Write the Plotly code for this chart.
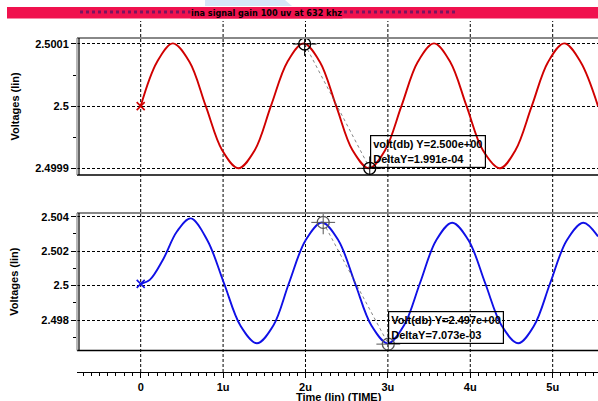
import plotly.graph_objects as go

# ---------------- data (time in microseconds) ----------------
red_t = [0, 0.198, 0.39, 0.593, 0.79, 0.989, 1.185, 1.384, 1.58, 1.78, 1.975, 2.175,
         2.373, 2.571, 2.77, 2.966, 3.164, 3.362, 3.56, 3.757, 3.955, 4.153, 4.36,
         4.548, 4.746, 4.944, 5.14, 5.339, 5.55]
red_v = [2.5, 2.500071, 2.500101, 2.500071, 2.5, 2.499929, 2.4999, 2.499929, 2.5,
         2.500071, 2.500101, 2.500071, 2.5, 2.499929, 2.4999, 2.499929, 2.5, 2.500071,
         2.500101, 2.500071, 2.5, 2.499929, 2.4999, 2.499929, 2.5, 2.500071, 2.500101,
         2.500071, 2.5]

blue_t = [0, 0.11, 0.27, 0.44, 0.607, 0.81, 1.01, 1.21, 1.41, 1.61, 1.80, 2.00, 2.20,
          2.40, 2.60, 2.80, 3.00, 3.195, 3.39, 3.585, 3.78, 3.98, 4.18, 4.38, 4.58,
          4.775, 4.97, 5.17, 5.37, 5.55]
blue_v = [2.5001, 2.50033, 2.5015, 2.50314, 2.5039, 2.50262, 2.50015, 2.49768, 2.49665,
          2.49768, 2.50015, 2.50262, 2.50366, 2.50262, 2.50015, 2.49768, 2.49664,
          2.49768, 2.50015, 2.50262, 2.50365, 2.50262, 2.50015, 2.49768, 2.49665,
          2.49768, 2.50015, 2.50262, 2.50365, 2.50285]

cur_top_t = [1.99, 2.78]
cur_top_v = [2.5001, 2.4999]
cur_bot_t = [2.215, 3.005]
cur_bot_v = [2.50367, 2.4966]

label_top = ["volt(db) Y=2.500e+00", "DeltaY=1.991e-04"]
label_bot = ["Volt(db) Y=2.497e+00", "DeltaY=7.073e-03"]

x_tickvals = [0, 1, 2, 3, 4, 5]
x_ticktext = ["0", "1u", "2u", "3u", "4u", "5u"]
y1_tickvals = [2.4999, 2.5, 2.5001]
y1_ticktext = ["2.4999", "2.5", "2.5001"]
y2_tickvals = [2.498, 2.5, 2.502, 2.504]
y2_ticktext = ["2.498", "2.5", "2.502", "2.504"]

title_text = "ina signal gain 100 uv at 632 khz"
ytitle = "Voltages (lin)"
xtitle = "Time (lin) (TIME)"

# ---------------- geometry helpers ----------------
W, H = 598, 401
ML, MR, MT, MB = 77, 0, 21, 29
PW = W - ML - MR
PH = H - MT - MB


def px(x):
    return (x - ML) / PW


def py(y):
    return (H - MB - y) / PH


FONT = "Liberation Sans, Arial, sans-serif"
NARROW = "Liberation Sans Narrow, DejaVu Sans Condensed, Liberation Sans, Arial"
RED = "#d00000"
BLUE = "#1010e6"

fig = go.Figure()

fig.add_trace(go.Scatter(x=red_t, y=red_v, mode="lines", xaxis="x", yaxis="y",
                         line=dict(color=RED, width=1.9, shape="spline", smoothing=1.0)))
fig.add_trace(go.Scatter(x=red_t[:1], y=red_v[:1], mode="markers", xaxis="x", yaxis="y",
                         marker=dict(symbol="x-thin", size=8, line=dict(color=RED, width=1.6))))
fig.add_trace(go.Scatter(x=blue_t, y=blue_v, mode="lines", xaxis="x", yaxis="y2",
                         line=dict(color=BLUE, width=1.9, shape="spline", smoothing=1.0)))
fig.add_trace(go.Scatter(x=blue_t[:1], y=blue_v[:1], mode="markers", xaxis="x", yaxis="y2",
                         marker=dict(symbol="x-thin", size=8, line=dict(color=BLUE, width=1.6))))

# cursors
for ct, cv, ya, col in [(cur_top_t, cur_top_v, "y", "#000000"),
                        (cur_bot_t, cur_bot_v, "y2", "#555555")]:
    fig.add_trace(go.Scatter(x=ct, y=cv, mode="lines", xaxis="x", yaxis=ya,
                             line=dict(color="#666666", width=0.8, dash="dot")))
    fig.add_trace(go.Scatter(x=ct, y=cv, mode="markers", xaxis="x", yaxis=ya,
                             marker=dict(symbol="circle-open", size=12, color=col,
                                         line=dict(color=col, width=1.3))))
    fig.add_trace(go.Scatter(x=ct, y=cv, mode="markers", xaxis="x", yaxis=ya,
                             marker=dict(symbol="cross-thin", size=17,
                                         line=dict(color=col, width=1))))

tickfont = dict(family=FONT, size=11, color="black", weight="bold")
grid = dict(showgrid=True, gridcolor="black", gridwidth=1, griddash="3px,2px")

top_dom = [py(175), py(38)]
bot_dom = [py(350.5), py(213)]

fig.update_layout(
    width=W, height=H,
    margin=dict(l=ML, r=MR, t=MT, b=MB, pad=0, autoexpand=False),
    paper_bgcolor="white", plot_bgcolor="white",
    showlegend=False, hovermode=False,
    xaxis=dict(domain=[0, 1], range=[-0.773, 5.55], anchor="free", position=0,
               showline=True, linecolor="black", linewidth=1,
               ticks="outside", ticklen=5, tickcolor="black", tickwidth=1,
               tickmode="array", tickvals=x_tickvals, ticktext=x_ticktext,
               tickfont=tickfont, showgrid=False, zeroline=False, automargin=False,
               minor=dict(tickmode="linear", tick0=0, dtick=0.1, ticks="outside",
                          ticklen=3, tickcolor="black", showgrid=False)),
    yaxis=dict(domain=top_dom, anchor="x", range=[2.49988925, 2.50010963],
               tickmode="array", tickvals=y1_tickvals, ticktext=y1_ticktext,
               ticks="outside", ticklen=5, tickcolor="black", tickfont=tickfont,
               zeroline=False, showline=False, automargin=False,
               minor=dict(tickmode="linear", tick0=2.4999, dtick=0.00005, ticks="outside",
                          ticklen=3, tickcolor="black", showgrid=False),
               **grid),
    yaxis2=dict(domain=bot_dom, anchor="x", range=[2.496229, 2.504215],
                tickmode="array", tickvals=y2_tickvals, ticktext=y2_ticktext,
                ticks="outside", ticklen=5, tickcolor="black", tickfont=tickfont,
                zeroline=False, showline=False, automargin=False,
                minor=dict(tickmode="linear", tick0=2.497, dtick=0.001, ticks="outside",
                           ticklen=3, tickcolor="black", showgrid=False),
                **grid),
)

shapes = []
# vertical dashed grid through the whole plot area
for tv in x_tickvals:
    shapes.append(dict(type="line", xref="x", yref="paper", x0=tv, x1=tv, y0=0, y1=1,
                       line=dict(color="black", width=1, dash="3px,2px"), layer="below"))
# panel frames (bevel look)
for dom in (top_dom, bot_dom):
    shapes.append(dict(type="line", xref="paper", yref="paper", x0=0, x1=1.01,
                       y0=dom[1], y1=dom[1], line=dict(color="#888888", width=2)))
    shapes.append(dict(type="line", xref="paper", yref="paper", x0=0, x1=1.01,
                       y0=dom[0], y1=dom[0], line=dict(color="black", width=1.5)))
    shapes.append(dict(type="line", xref="paper", yref="paper", x0=0, x1=0,
                       y0=dom[0], y1=dom[1], line=dict(color="#888888", width=1.2)))
    shapes.append(dict(type="line", xref="paper", yref="paper", x0=px(79), x1=px(79),
                       y0=dom[0], y1=dom[1], line=dict(color="black", width=1.2)))
# faint watermark at the very top
shapes.append(dict(type="path", xref="paper", yref="paper",
                   path=f"M {px(205)},{py(0)} L {px(285)},{py(0)} L {px(292)},{py(6)} L {px(205)},{py(6)} Z",
                   fillcolor="#d6e6f8", line=dict(width=0), layer="below"))
# title bar
shapes.append(dict(type="rect", xref="paper", yref="paper", x0=px(7), x1=px(600),
                   y0=py(18.5), y1=py(7), fillcolor="#f0124e", line=dict(width=0)))
shapes.append(dict(type="line", xref="paper", yref="paper", x0=px(80), x1=px(455),
                   y0=py(12), y1=py(12), line=dict(color="#7a1460", width=3, dash="dot")))
fig.update_layout(shapes=shapes)

ann = []
ann.append(dict(text=title_text, xref="paper", yref="paper", x=px(266), y=py(12.5),
                xanchor="center", yanchor="middle", showarrow=False,
                font=dict(family=NARROW, size=9, color="black", weight="bold"),
                bgcolor="#f0124e", borderpad=0))
for dom in (top_dom, bot_dom):
    ann.append(dict(text=ytitle, xref="paper", yref="paper", x=px(14),
                    y=(dom[0] + dom[1]) / 2, xanchor="center", yanchor="middle",
                    textangle=-90, showarrow=False,
                    font=dict(family=FONT, size=11, color="black", weight="bold")))
ann.append(dict(text=xtitle, xref="paper", yref="paper", x=px(339), y=py(397),
                xanchor="center", yanchor="middle", showarrow=False,
                font=dict(family=FONT, size=11, color="black", weight="bold")))
for ct, cv, lab, ya, bc in [(cur_top_t, cur_top_v, label_top, "y", "black"),
                            (cur_bot_t, cur_bot_v, label_bot, "y2", "black")]:
    ann.append(dict(text="<br>".join(lab), xref="x", yref=ya, x=ct[1], y=cv[1],
                    xanchor="left", yanchor="bottom", showarrow=False, align="left",
                    bordercolor=bc, borderwidth=1.2, borderpad=2,
                    bgcolor="rgba(255,255,255,0)",
                    font=dict(family=FONT, size=11, color="black", weight="bold")))
fig.update_layout(annotations=ann)

fig.write_html("out.html", config={"displayModeBar": False},
               post_script="document.body.style.margin='0';")
